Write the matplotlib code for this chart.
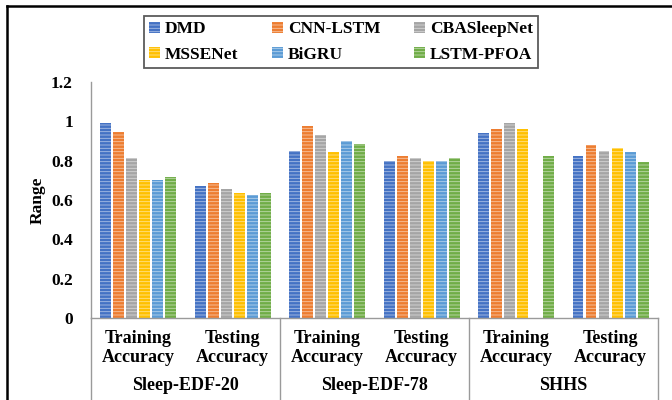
import matplotlib.pyplot as plt
from matplotlib.lines import Line2D
import numpy as np

plt.rcParams['font.family'] = ['Liberation Serif', 'DejaVu Serif']
plt.rcParams['font.weight'] = 'bold'
plt.rcParams['hatch.linewidth'] = 0.6

# metric labels along the x axis, grouped by dataset
metrics = ['Training\nAccuracy', 'Testing\nAccuracy'] * 3
datasets = ['Sleep-EDF-20', 'Sleep-EDF-78', 'SHHS']
models = ['DMD', 'CNN-LSTM', 'CBASleepNet', 'MSSENet', 'BiGRU', 'LSTM-PFOA']

dmd = [0.99, 0.67, 0.85, 0.80, 0.94, 0.825]
cnn_lstm = [0.945, 0.685, 0.975, 0.825, 0.96, 0.88]
cbasleepnet = [0.815, 0.655, 0.93, 0.815, 0.99, 0.85]
mssenet = [0.70, 0.635, 0.845, 0.80, 0.96, 0.865]
bigru = [0.70, 0.625, 0.90, 0.80, 0.0, 0.845]
lstm_pfoa = [0.715, 0.635, 0.885, 0.815, 0.825, 0.795]

series = [dmd, cnn_lstm, cbasleepnet, mssenet, bigru, lstm_pfoa]
colors = ['#4472C4', '#ED7D31', '#A5A5A5', '#FFC000', '#5B9BD5', '#70AD47']

fig = plt.figure(figsize=(6.72, 4.0), dpi=100)
ax = fig.add_axes([0.1354, 0.205, 0.8437, 0.59])

x = np.arange(len(metrics))
pitch = 0.1376
width = 0.112
bars = []
for i, (vals, c) in enumerate(zip(series, colors)):
    pos = x + (i - 2.5) * pitch
    b = ax.bar(pos, vals, width, color=c, label=models[i],
               edgecolor=(1, 1, 1, 0.55), hatch='-----', linewidth=0)
    bars.append(b)

ax.set_xlim(-0.5, len(metrics) - 0.5)
ax.set_ylim(0, 1.2)
ax.set_yticks([0, 0.2, 0.4, 0.6, 0.8, 1.0, 1.2])
ax.set_yticklabels(['0', '0.2', '0.4', '0.6', '0.8', '1', '1.2'], fontsize=12.5, fontweight='bold')
ax.tick_params(axis='y', length=0, pad=13)
ax.set_xticks([])
ax.set_ylabel('Range', fontsize=12.5, fontweight='bold', labelpad=4)

for s in ['top', 'right']:
    ax.spines[s].set_visible(False)
for s in ['left', 'bottom']:
    ax.spines[s].set_color('#9a9a9a')
    ax.spines[s].set_linewidth(1.0)

# category and dataset labels under the axis
trans = ax.get_xaxis_transform()
for xi, lab in zip(x, metrics):
    ax.text(xi, -0.05, lab, transform=trans, ha='center', va='top',
            fontsize=13, fontweight='bold', linespacing=1.15)
for k, name in enumerate(datasets):
    ax.text(2 * k + 0.5, -0.285, name, transform=trans, ha='center', va='center',
            fontsize=13, fontweight='bold')

# group divider lines
for bx in [-0.5, 1.5, 3.5, 5.5]:
    ax.plot([bx, bx], [0, -0.35], transform=trans, color='#9a9a9a',
            linewidth=1.0, clip_on=False)

# legend laid out row by row: matplotlib fills columns first
order = [0, 3, 1, 4, 2, 5]
leg = fig.legend([bars[i] for i in order], [models[i] for i in order],
                 loc='lower left', bbox_to_anchor=(144 / 672, 1 - 68 / 400, 394 / 672, 54 / 400),
                 mode='expand', ncol=3, frameon=True, fancybox=False, fontsize=12.5,
                 handlelength=0.6, handleheight=0.6, handletextpad=0.3,
                 borderpad=0.3, labelspacing=0.55, borderaxespad=0)
leg.get_frame().set_edgecolor('#333333')
leg.get_frame().set_linewidth(1.3)
for t in leg.get_texts():
    t.set_fontweight('bold')

# outer frame
fig.add_artist(Line2D([7 / 672, 7 / 672], [0, 1 - 6 / 400], color='black', linewidth=1.8))
fig.add_artist(Line2D([7 / 672, 1], [1 - 6 / 400, 1 - 6 / 400], color='black', linewidth=1.8))

fig.savefig('out.png', dpi=100)
